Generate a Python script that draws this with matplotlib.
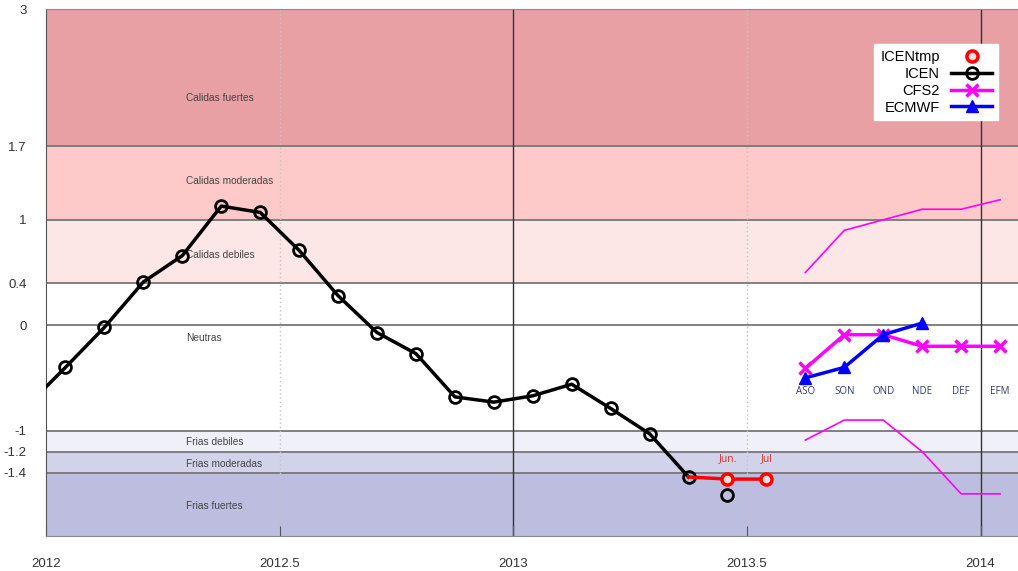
import matplotlib
matplotlib.use("Agg")
import matplotlib.pyplot as plt

# ---- data ----
# monthly ICEN, Dec 2011 .. May 2013 (month number counted from Jan 2012 = 1)
icen_months = [0, 1, 2, 3, 4, 5, 6, 7, 8, 9, 10, 11, 12, 13, 14, 15, 16, 17]
icen_vals = [-0.77, -0.40, -0.02, 0.41, 0.66, 1.13, 1.07, 0.71, 0.28, -0.07,
             -0.27, -0.68, -0.73, -0.67, -0.56, -0.79, -1.03, -1.44]
icen_jun_month = 18
icen_jun_val = -1.61

icentmp_months = [17, 18, 19]
icentmp_vals = [-1.44, -1.46, -1.46]
icentmp_labels = ["Jun.", "Jul"]

seasons = ["ASO", "SON", "OND", "NDE", "DEF", "EFM"]
season_months = [20, 21, 22, 23, 24, 25]
cfs2 = [-0.41, -0.09, -0.09, -0.20, -0.20, -0.20]
cfs2_hi = [0.50, 0.90, 1.00, 1.10, 1.10, 1.19]
cfs2_lo = [-1.09, -0.90, -0.90, -1.20, -1.60, -1.60]
ecmwf = [-0.50, -0.40, -0.09, 0.02]

# bands
band_edges = [-2.0, -1.4, -1.2, -1.0, 0.4, 1.0, 1.7, 3.0]
band_colors = ["#bdbde0", "#d2d2eb", "#f0f0fa", "#ffffff", "#fde6e6", "#fdc9c9", "#e8a0a5"]
band_names = ["Frias fuertes", "Frias moderadas", "Frias debiles", "Neutras",
              "Calidas debiles", "Calidas moderadas", "Calidas fuertes"]
band_label_y = [-1.72, -1.32, -1.11, -0.12, 0.67, 1.37, 2.16]

yticks = [3, 1.7, 1, 0.4, 0, -1, -1.2, -1.4]
ytick_labels = ["3", "1.7", "1", "0.4", "0", "-1", "-1.2", "-1.4"]
xticks = [2012, 2012.5, 2013, 2013.5, 2014]
xtick_labels = ["2012", "2012.5", "2013", "2013.5", "2014"]


def mx(m):
    # month index -> decimal year at mid-month
    return 2012 + (m - 0.5) / 12


plt.rcParams['font.family'] = ['Liberation Sans', 'DejaVu Sans']

fig = plt.figure(figsize=(10.18, 5.71), dpi=100)
ax = fig.add_axes([46 / 1018, 35 / 571, 1 - 46 / 1018, 527 / 571])

# background bands
for i in range(len(band_colors)):
    ax.axhspan(band_edges[i], band_edges[i + 1], color=band_colors[i], lw=0, zorder=0)
    ax.text(2012.30, band_label_y[i], band_names[i], fontsize=7.3, color="#444444",
            va="center", ha="left", zorder=1)
for y in [1.7, 1.0, 0.4, 0.0, -1.0, -1.2, -1.4]:
    ax.axhline(y, color="#777777", lw=1.3, zorder=1)

ax.axvline(2013, color="#333333", lw=1, zorder=1)
ax.axvline(2014, color="#333333", lw=1, zorder=1)
ax.axvline(2012.5, color="#c4c4c4", lw=1, ls=(0, (1, 2)), zorder=1)
ax.axvline(2013.5, color="#c4c4c4", lw=1, ls=(0, (1, 2)), zorder=1)

# CFS2 spread
sx = [mx(m) for m in season_months]
ax.plot(sx, cfs2_hi, color="#ff00ff", lw=1.2, zorder=2)
ax.plot(sx, cfs2_lo, color="#ff00ff", lw=1.2, zorder=2)

# ICEN
ax.plot([mx(m) for m in icen_months], icen_vals, color="black", lw=2.5,
        marker="o", ms=8.5, mfc="none", mew=2, zorder=3, label="ICEN")
ax.plot([mx(icen_jun_month)], [icen_jun_val], ls="none", marker="o", ms=8.5,
        mfc="none", mec="black", mew=2, zorder=3)

# ICENtmp
tx = [mx(m) for m in icentmp_months]
ax.plot(tx, icentmp_vals, color="red", lw=2.5, zorder=3)
ax.plot(tx[1:], icentmp_vals[1:], ls="none", marker="o", ms=8, mfc="#ffdddd",
        mec="red", mew=2.5, zorder=4, label="ICENtmp")
for x, lab in zip(tx[1:], icentmp_labels):
    ax.text(x, -1.27, lab, color="#e03030", fontsize=7.5, ha="center", va="center",
            family=["Open Sans", "DejaVu Sans"])

# forecasts
ax.plot(sx, cfs2, color="#ff00ff", lw=2.5, marker="x", ms=9, mew=2.5, zorder=4,
        label="CFS2")
ax.plot(sx[:len(ecmwf)], ecmwf, color="#0000ff", lw=2.5, marker="^", ms=9, zorder=5,
        label="ECMWF")
for x, lab in zip(sx, seasons):
    ax.text(x, -0.63, lab, color="#2e3b6e", fontsize=7, ha="center", va="center",
            family=["Open Sans", "DejaVu Sans"], zorder=6)

ax.set_xlim(2012.0, 2014.08)
ax.set_ylim(-2, 3)
ax.set_yticks(yticks)
ax.set_yticklabels(ytick_labels)
ax.set_xticks(xticks)
ax.set_xticklabels(xtick_labels)
ax.tick_params(axis="y", length=0, pad=14, labelsize=9.5, labelcolor="#333333")
ax.tick_params(axis="x", direction="in", length=7, color="#555555", pad=16,
               labelsize=9.5, labelcolor="#333333")

ax.spines["right"].set_visible(False)
ax.spines["left"].set_color("#555555")
ax.spines["bottom"].set_color("#888888")
ax.spines["top"].set_color("#888888")

h, l = ax.get_legend_handles_labels()
order = ["ICENtmp", "ICEN", "CFS2", "ECMWF"]
hs = [h[l.index(o)] for o in order]
leg = ax.legend(hs, order, loc="upper right", bbox_to_anchor=(998 / 1018, 1 - 44 / 571),
                bbox_transform=fig.transFigure, markerfirst=False, fontsize=10.5,
                frameon=True, fancybox=False, framealpha=1, edgecolor="white",
                handlelength=2.8, labelspacing=0.2, borderpad=0.4, handletextpad=0.8,
                borderaxespad=0)
leg.set_zorder(10)

fig.savefig("out.png", dpi=100)
